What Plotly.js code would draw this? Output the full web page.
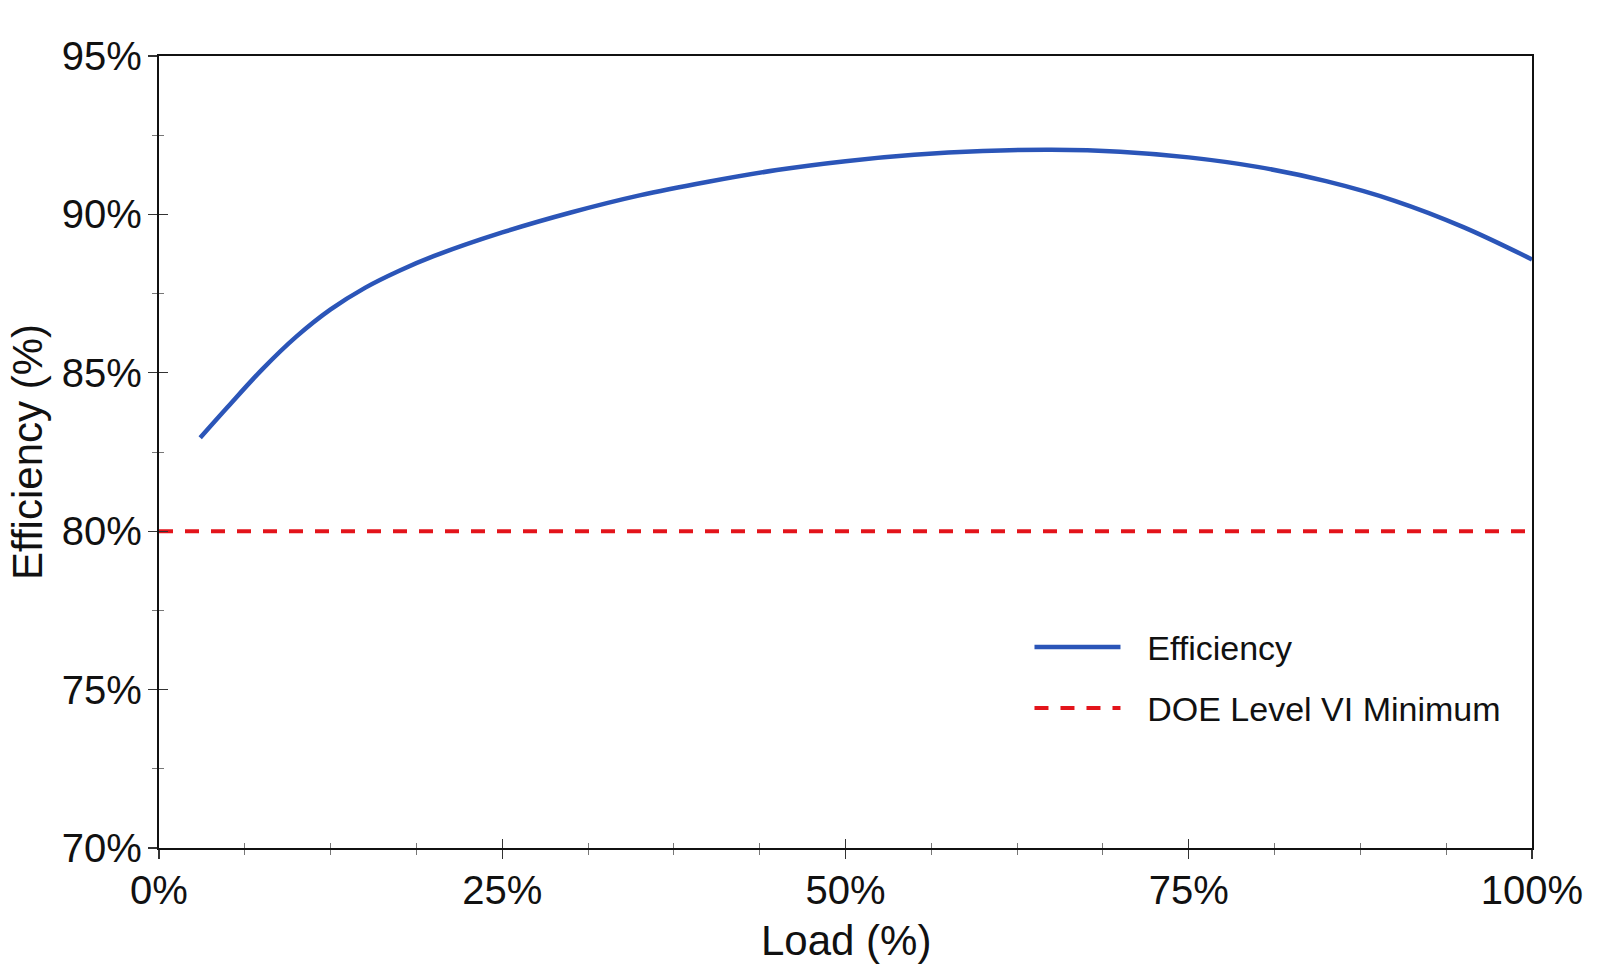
<!DOCTYPE html>
<html>
<head>
<meta charset="utf-8">
<script src="https://cdn.plot.ly/plotly-3.0.1.min.js"></script>
<style>html,body{margin:0;padding:0;background:#fff;}#chart{width:1599px;height:964px;}</style>
</head>
<body>
<div id="chart"></div>
<script>
// Data
const loadPct = [3, 5, 7.5, 10, 12.5, 15, 17.5, 20, 25, 30, 35, 40, 45, 50, 55, 60, 65, 70, 75, 80, 85, 90, 95, 100];
const efficiencyPct = [82.95, 83.92, 85.1, 86.14, 87.0, 87.68, 88.22, 88.68, 89.43, 90.06, 90.6, 91.03, 91.4, 91.68, 91.88, 92.0, 92.04, 91.98, 91.8, 91.5, 91.05, 90.43, 89.6, 88.58];
const doeLoad = [0, 100];
const doeMinimum = [80, 80];
const xTicks = [0, 25, 50, 75, 100];
const xTickLabels = ['0%', '25%', '50%', '75%', '100%'];
const yTicks = [70, 75, 80, 85, 90, 95];
const yTickLabels = ['70%', '75%', '80%', '85%', '90%', '95%'];
const seriesNames = ['Efficiency', 'DOE Level VI Minimum'];
const xTitle = 'Load (%)';
const yTitle = 'Efficiency (%)';

const FONT = '"Liberation Sans", Arial, sans-serif';
const GAP = '\u00A0\u00A0\u200A';

const traces = [
  {
    x: loadPct, y: efficiencyPct, type: 'scatter', mode: 'lines',
    name: GAP + seriesNames[0], legendgroup: 'a',
    line: {color: '#2B55B8', width: 4.5, shape: 'spline', smoothing: 1}
  },
  {
    x: doeLoad, y: doeMinimum, type: 'scatter', mode: 'lines',
    name: GAP + seriesNames[1], legendgroup: 'b',
    xaxis: 'x2', yaxis: 'y2',
    line: {color: '#E3141B', width: 4, dash: '14px,12px'}
  }
];

const axisCommon = {
  showgrid: false, zeroline: false,
  tickfont: {family: FONT, size: 40, color: '#111'},
  tickcolor: '#333', tickwidth: 1.2
};

const layout = {
  width: 1599, height: 964,
  margin: {l: 159, r: 67, t: 56, b: 116, pad: 0},
  paper_bgcolor: '#ffffff', plot_bgcolor: '#ffffff',
  font: {family: FONT, color: '#111'},
  showlegend: true,
  legend: {
    x: 0.634, y: 0.29, xanchor: 'left', yanchor: 'top',
    bgcolor: 'rgba(0,0,0,0)', borderwidth: 0,
    font: {family: FONT, size: 34, color: '#111'},
    itemwidth: 86, tracegroupgap: 14
  },
  xaxis: Object.assign({}, axisCommon, {
    range: [0, 100], tickmode: 'array', tickvals: xTicks, ticktext: xTickLabels,
    ticks: 'outside', ticklen: 9,
    minor: {dtick: 6.25, tick0: 0, ticks: 'outside', ticklen: 5, tickcolor: '#777', tickwidth: 1},
    showline: true, linecolor: '#111', linewidth: 2.2, mirror: true,
    ticklabelstandoff: -3
  }),
  yaxis: Object.assign({}, axisCommon, {
    range: [70, 95], tickmode: 'array', tickvals: yTicks, ticktext: yTickLabels,
    ticks: 'outside', ticklen: 9,
    minor: {dtick: 2.5, tick0: 70, ticks: 'outside', ticklen: 5, tickcolor: '#777', tickwidth: 1},
    showline: true, linecolor: '#111', linewidth: 2.2, mirror: true,
    ticklabelstandoff: -2,
    title: {text: yTitle, font: {family: FONT, size: 42, color: '#111'}, standoff: 6}
  }),
  xaxis2: Object.assign({}, axisCommon, {
    overlaying: 'x', anchor: 'y', range: [0, 100], tickmode: 'array', tickvals: xTicks,
    ticks: 'inside', ticklen: 9, showticklabels: false, showline: false,
    minor: {dtick: 6.25, tick0: 0, ticks: 'inside', ticklen: 5, tickcolor: '#777', tickwidth: 1}
  }),
  yaxis2: Object.assign({}, axisCommon, {
    overlaying: 'y', anchor: 'x', range: [70, 95], tickmode: 'array', tickvals: yTicks,
    ticks: 'inside', ticklen: 9, showticklabels: false, showline: false,
    minor: {dtick: 2.5, tick0: 70, ticks: 'inside', ticklen: 5, tickcolor: '#777', tickwidth: 1}
  }),
  annotations: [{
    text: xTitle, xref: 'paper', yref: 'paper', x: 0.5, y: -0.117,
    xanchor: 'center', yanchor: 'middle', showarrow: false,
    font: {family: FONT, size: 42, color: '#111'}
  }]
};

Plotly.newPlot('chart', traces, layout, {displayModeBar: false, staticPlot: true});
</script>
</body>
</html>
